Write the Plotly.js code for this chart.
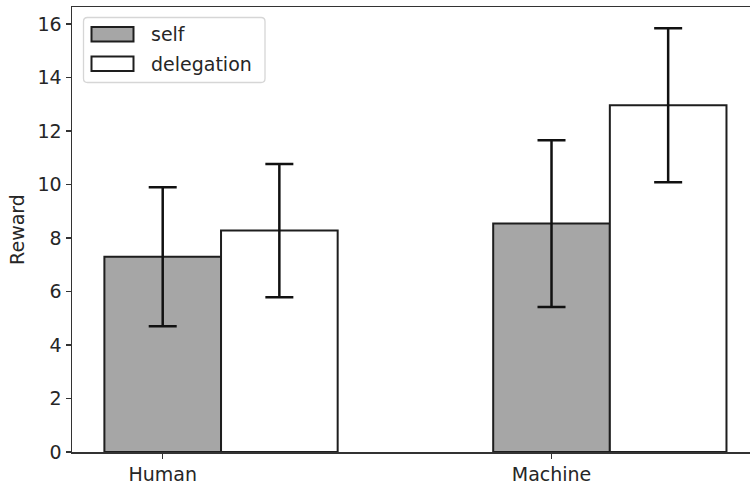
<!DOCTYPE html>
<html>
<head>
<meta charset="utf-8">
<script src="https://cdn.plot.ly/plotly-3.0.1.min.js"></script>
<style>
  html, body { margin: 0; padding: 0; background: #fff; overflow: hidden; }
  #chart { width: 750px; height: 488px; }
</style>
</head>
<body>
<div id="chart"></div>
<script>
// ---- data ----
const categories = ['Human', 'Machine'];
const seriesNames = ['self', 'delegation'];
const selfValues = [7.30, 8.54];
const selfErrors = [2.60, 3.12];
const delegationValues = [8.28, 12.97];
const delegationErrors = [2.49, 2.88];
const yTickValues = [0, 2, 4, 6, 8, 10, 12, 14, 16];

// ---- styling ----
const FONT = 'DejaVu Sans, sans-serif';
const FS = 19;
const TXT = '#262626';
const EDGE = '#1e1e1e';
const colors = ['#a6a6a6', '#ffffff'];
const barWidth = 0.3;

const W = 750, H = 488;
const M = {l: 72, r: 0, t: 7, b: 36};
const pw = W - M.l - M.r, ph = H - M.t - M.b;
const px = x => (x - M.l) / pw;
const py = y => (H - M.b - y) / ph;

const catIdx = categories.map((c, i) => i);

function barTrace(name, vals, errs, shift, color) {
  return {
    type: 'bar',
    name: name,
    x: catIdx.map(i => i + shift),
    y: vals,
    width: barWidth,
    marker: {color: color, line: {color: EDGE, width: 2}},
    error_y: {type: 'data', array: errs, visible: true, color: '#111', thickness: 2.5, width: 14},
    showlegend: false,
    hoverinfo: 'skip'
  };
}

const data = [
  barTrace(seriesNames[0], selfValues, selfErrors, 0, colors[0]),
  barTrace(seriesNames[1], delegationValues, delegationErrors, barWidth, colors[1])
];

// custom matplotlib-like legend
function roundedRect(x0, y0, x1, y1, r) {
  // pixel coords -> paper path
  const rx = r / pw, ry = r / ph;
  const X0 = px(x0), X1 = px(x1), Y0 = py(y0), Y1 = py(y1); // Y0 top (larger)
  return `M ${X0 + rx} ${Y0} L ${X1 - rx} ${Y0} Q ${X1} ${Y0} ${X1} ${Y0 - ry} ` +
         `L ${X1} ${Y1 + ry} Q ${X1} ${Y1} ${X1 - rx} ${Y1} ` +
         `L ${X0 + rx} ${Y1} Q ${X0} ${Y1} ${X0} ${Y1 + ry} ` +
         `L ${X0} ${Y0 - ry} Q ${X0} ${Y0} ${X0 + rx} ${Y0} Z`;
}

const shapes = [
  {type: 'path', xref: 'paper', yref: 'paper', path: roundedRect(83.5, 17.5, 265, 82.5, 4),
   fillcolor: 'rgba(255,255,255,0.8)', line: {color: '#d6d6d6', width: 1.3}, layer: 'above'}
];
const annotations = [];
const rowY = [34.2, 63.7];
seriesNames.forEach((n, k) => {
  shapes.push({type: 'rect', xref: 'paper', yref: 'paper',
    x0: px(91.5), x1: px(133.5), y0: py(rowY[k] - 7.3), y1: py(rowY[k] + 7.3),
    fillcolor: colors[k], line: {color: EDGE, width: 2}, layer: 'above'});
  annotations.push({xref: 'paper', yref: 'paper', x: px(149), y: py(rowY[k]),
    xanchor: 'left', yanchor: 'middle', text: n, showarrow: false,
    font: {family: FONT, size: FS, color: TXT}});
});

const layout = {
  width: W, height: H,
  margin: M,
  paper_bgcolor: '#fff', plot_bgcolor: '#fff',
  font: {family: FONT, size: FS, color: TXT},
  showlegend: false,
  barmode: 'overlay',
  xaxis: {
    range: [-0.2333, 1.5105],
    tickvals: catIdx, ticktext: categories,
    showgrid: false, zeroline: false,
    showline: true, linecolor: '#333', linewidth: 1.5, mirror: true,
    ticks: 'outside', ticklen: 5, tickwidth: 1.5, tickcolor: '#333',
    tickfont: {family: FONT, size: FS, color: TXT}
  },
  yaxis: {
    range: [0, 16.64],
    tickvals: yTickValues,
    showgrid: false, zeroline: false,
    showline: true, linecolor: '#333', linewidth: 1.5,
    ticks: 'outside', ticklen: 5, tickwidth: 1.5, tickcolor: '#333',
    tickfont: {family: FONT, size: FS, color: TXT},
    title: {text: 'Reward', font: {family: FONT, size: FS, color: TXT}}
  },
  shapes: shapes,
  annotations: annotations
};

Plotly.newPlot('chart', data, layout, {staticPlot: true, displayModeBar: false});
</script>
</body>
</html>
